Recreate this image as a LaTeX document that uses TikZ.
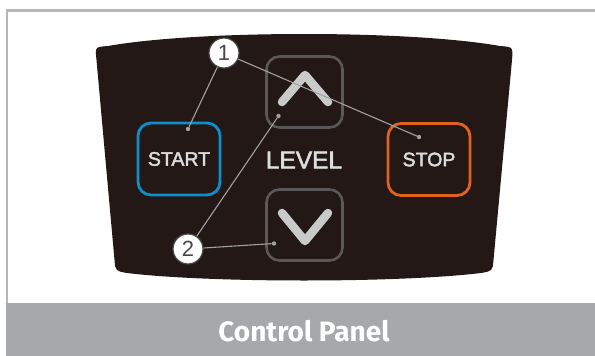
\documentclass[tikz,border=0pt]{standalone}
\usepackage{fontspec}
\setmainfont{Liberation Sans}
\newfontfamily\keyfont[FakeBold=2.2]{Liberation Sans}
\newfontfamily\barfont{Fira Sans}
\usetikzlibrary{calc}

\definecolor{panelink}{HTML}{231815}
\definecolor{startblue}{HTML}{0E8FC8}
\definecolor{stoporange}{HTML}{E0621C}
\definecolor{keygray}{HTML}{5A5858}
\definecolor{chevron}{HTML}{C9CACA}
\definecolor{keytext}{HTML}{DCDDDD}
\definecolor{leader}{HTML}{A0A1A1}
\definecolor{framegray}{HTML}{B5B5B6}
\definecolor{bargray}{HTML}{A7A8A9}
\definecolor{numgray}{HTML}{4A4848}

\tikzset{
  keybox/.style={draw, line width=2.8pt, rounded corners=13pt,
    minimum width=#1, inner sep=0pt, text=keytext,
    font=\keyfont\fontsize{19.5}{21}\selectfont},
  keybox/.default={82pt},
  arrowkey/.style={draw=keygray, line width=2.6pt, rounded corners=13pt,
    minimum width=76pt, minimum height=71pt, inner sep=0pt},
  chev/.style={draw=chevron, line width=8.5pt, line cap=round, line join=round},
  callout/.style={circle, draw=numgray, line width=1.2pt, fill=white,
    minimum size=30pt, inner sep=0pt, text=numgray,
    font=\fontsize{22}{23}\selectfont},
  tipdot/.style={circle, fill=leader, inner sep=0pt, minimum size=4.4pt},
  leaderline/.style={draw=leader, line width=1.1pt},
}

\begin{document}
\begin{tikzpicture}[x=1pt, y=-1pt]
  \useasboundingbox (0,0) rectangle (595,356);
  \fill[white] (0,0) rectangle (595,356);

  % frame and caption bar
  \fill[bargray] (6,303) rectangle (595,356);
  \draw[framegray, line width=2.2pt] (7,303) -- (7,10.5) -- (595,10.5);
  \node[text=white, font=\barfont\bfseries\fontsize{28}{30}\selectfont]
    (caption) at (304,331) {Control Panel};

  % keypad body
  \fill[panelink]
    (96.5,60) -- (114.5,260)
    .. controls (115.5,271) .. (127,273)
    .. controls (210,283) and (398,283) .. (481,273)
    .. controls (492.5,271) .. (493.5,260)
    -- (512,60)
    .. controls (513,47) .. (500,46)
    .. controls (410,30) and (198,30) .. (108,46)
    .. controls (95,47) .. cycle;

  % keys
  \node[keybox, draw=startblue, minimum height=72pt] (start) at (179,159) {START};
  \node[keybox, draw=stoporange, minimum height=72pt] (stop) at (429,159.5) {STOP};
  \node[arrowkey] (up) at (304.5,92) {};
  \node[arrowkey] (down) at (304.5,225) {};
  \draw[chev] (282,102) -- (305,75) -- (328,102);
  \draw[chev] (282,213) -- (305,241) -- (328,213);
  \node[text=keytext, font=\keyfont\fontsize{24.5}{26}\selectfont] (level) at (304,160) {LEVEL};

  % callouts
  \node[tipdot] (pstart) at (188,129) {};
  \node[tipdot] (pstop) at (419,137) {};
  \node[tipdot] (pup) at (278.5,116) {};
  \node[tipdot] (pdown) at (274,243.5) {};
  \node[callout] (c1) at (224,53) {1};
  \node[callout] (c2) at (188,249) {2};
  \draw[leaderline] (c1) -- (pstart);
  \draw[leaderline] (c1) -- (pstop);
  \draw[leaderline] (c2) -- (pup);
  \draw[leaderline] (c2) -- (pdown);
\end{tikzpicture}
\end{document}
